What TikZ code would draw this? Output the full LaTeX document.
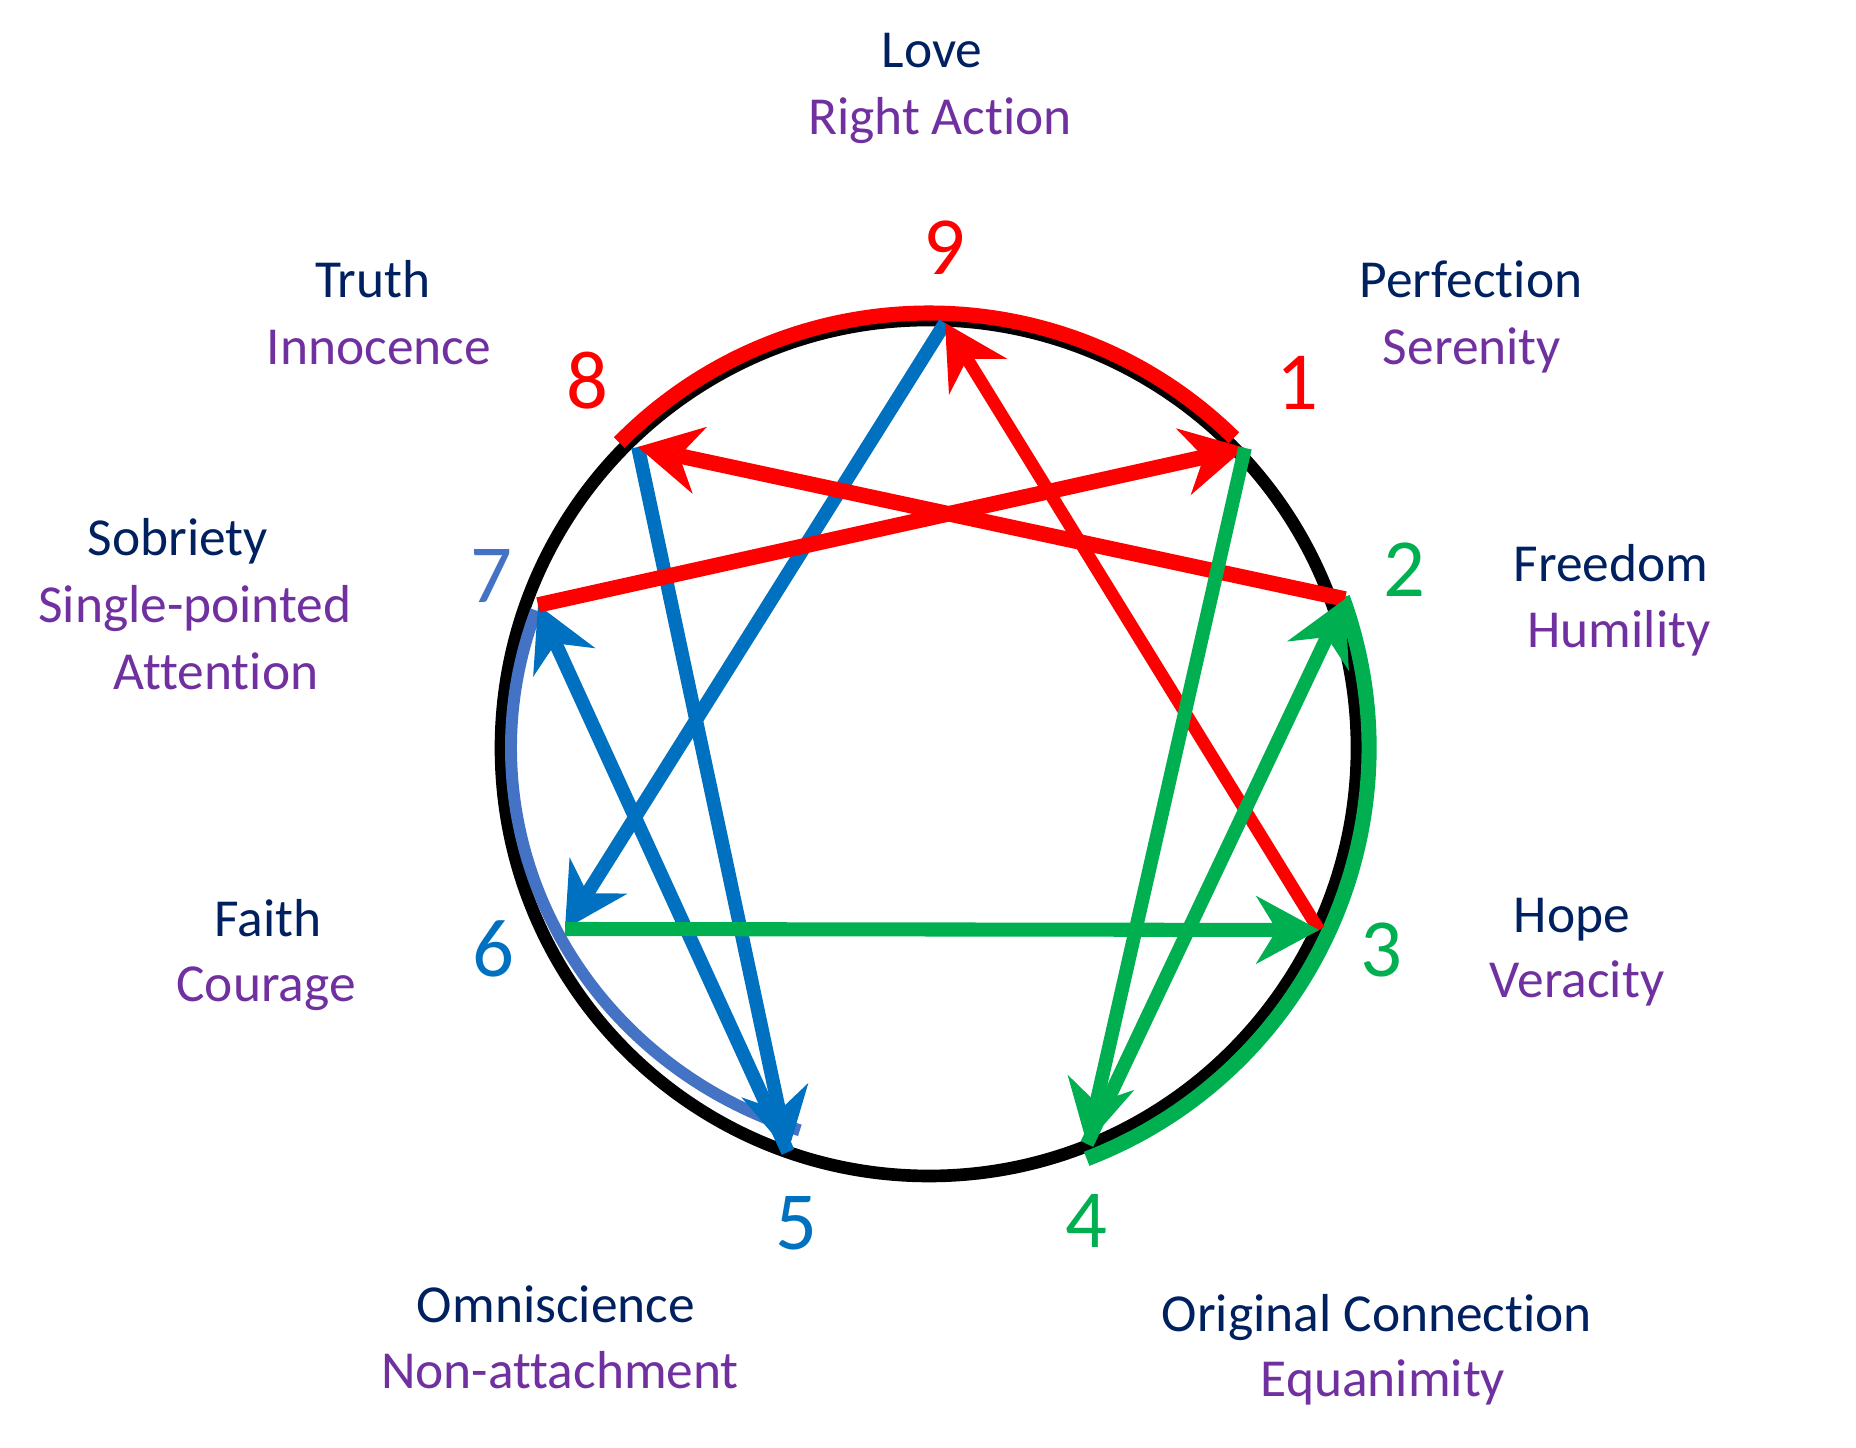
\documentclass[tikz,border=0pt]{standalone}
\usepackage{fontspec}
\setmainfont{Carlito}[Ligatures=NoCommon]
\usepackage{tikz}
\usetikzlibrary{arrows.meta}

\definecolor{ennRed}{HTML}{FF0000}
\definecolor{ennGreen}{HTML}{00B050}
\definecolor{ennBlue}{HTML}{0070C0}
\definecolor{ennSky}{HTML}{4472C4}
\definecolor{ennNavy}{HTML}{002060}
\definecolor{ennPurple}{HTML}{7030A0}

\begin{document}
\begin{tikzpicture}[
		x=0.01cm, y=0.01cm,
		font=\fontsize{15.2}{18}\selectfont,
		>={Stealth[length=18pt, width=19.5pt, inset=6pt, line width=0pt]},
		num/.style={anchor=base, font=\fontsize{23.5}{28}\selectfont},
		top/.style={anchor=base, text=ennNavy},
		sub/.style={anchor=base, text=ennPurple},
		link/.style={->, line width=3.9pt},
		band/.style={line width=4.3pt}
		]
		\useasboundingbox (0,0) rectangle (1856,1448);
		
		% centre and the nine points
		\coordinate (c) at (929,700);
		\coordinate (p9) at (945,1125);
		\coordinate (p1) at (1245,1000);
		\coordinate (p2) at (1345,849);
		\coordinate (p3) at (1319,518);
		\coordinate (p4) at (1087,304);
		\coordinate (p5) at (788,296);
		\coordinate (p6) at (565,519);
		\coordinate (p7) at (538,843);
		\coordinate (p8) at (638,1001);
		
		% circle
		\draw[line width=3.6pt] (c) circle[radius=428];
		
		% coloured arcs
		\draw[band, ennRed] ([shift={(135.4:435)}]c) arc[start angle=135.4, end angle=45.5, radius=435];
		\draw[band, ennGreen] ([shift={(20:440)}]c) arc[start angle=20, end angle=-69, radius=440];
		\draw[band, ennSky, line width=3.4pt] ([shift={(160:418 and 402)}]c)
		arc[start angle=160, end angle=252, x radius=418, y radius=402];
		
		% blue lines
		\draw[link, ennBlue] (p9) -- (p6);
		\draw[link, ennBlue] (p8) -- (p5);
		\draw[link, ennBlue] (p5) -- (p7);
		
		% red lines
		\draw[link, ennRed, line width=4.4pt] (p7) -- (p1);
		\draw[link, ennRed, line width=4.4pt] (p2) -- (p8);
		\draw[link, ennRed, line width=3.6pt] (p3) -- (p9);
		
		% green lines
		\draw[link, ennGreen] (p1) -- (p4);
		\draw[link, ennGreen] (p4) -- (p2);
		\draw[link, ennGreen, line width=4pt] (p6) -- (p3);
		
		% numbers
		\node[num, text=ennRed] (n9) at (944,1173) {9};
		\node[num, text=ennRed] (n1) at (1297,1038) {1};
		\node[num, text=ennGreen] (n2) at (1404,851) {2};
		\node[num, text=ennGreen] (n3) at (1381,471) {3};
		\node[num, text=ennGreen] (n4) at (1086,200) {4};
		\node[num, text=ennBlue] (n5) at (796,198) {5};
		\node[num, text=ennBlue] (n6) at (493,471) {6};
		\node[num, text=ennSky] (n7) at (491,845) {7};
		\node[num, text=ennRed] (n8) at (587,1039) {8};
		
		% virtues and holy ideas
		\node[top] (love) at (932,1380) {Love};
		\node[sub] (action) at (940,1313) {Right Action};
		\node[top] (perfection) at (1471,1150) {Perfection};
		\node[sub] (serenity) at (1472,1083) {Serenity};
		\node[top] (freedom) at (1611,866) {Freedom};
		\node[sub] (humility) at (1619,800) {Humility};
		\node[top] (hope) at (1572,515) {Hope};
		\node[sub] (veracity) at (1577,450) {Veracity};
		\node[top] (connection) at (1377,116) {Original Connection};
		\node[sub] (equanimity) at (1383,51) {Equanimity};
		\node[top] (omniscience) at (556,125) {Omniscience};
		\node[sub] (nonattach) at (560,59) {Non-attachment};
		\node[top] (faith) at (268,511) {Faith};
		\node[sub] (courage) at (266,446) {Courage};
		\node[top] (sobriety) at (178,892) {Sobriety};
		\node[sub] (single) at (195,825) {Single-pointed};
		\node[sub] (attention) at (216,758) {Attention};
		\node[top] (truth) at (373,1150) {Truth};
		\node[sub] (innocence) at (379,1083) {Innocence};
		
	\end{tikzpicture}
\end{document}
